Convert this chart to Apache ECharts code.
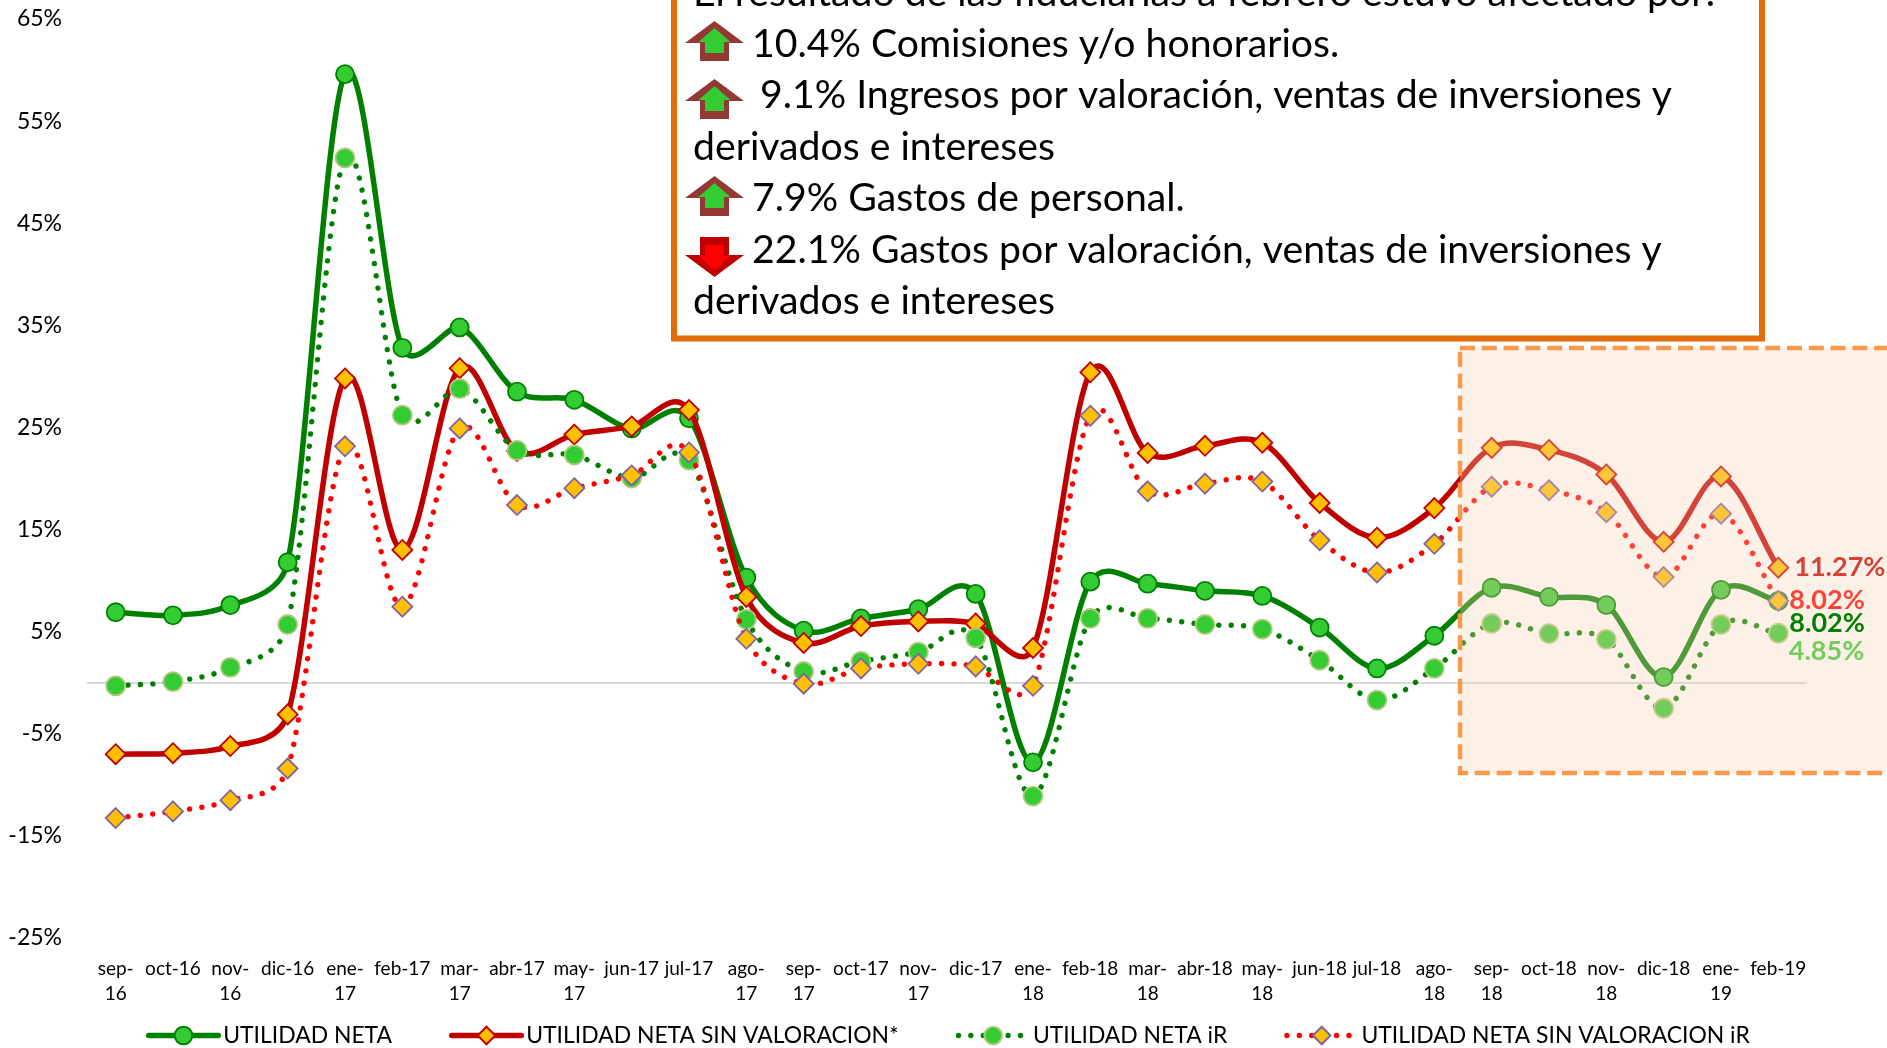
<!DOCTYPE html>
<html>
<head>
<meta charset="utf-8">
<style>html,body{margin:0;padding:0;background:#fff}#c{width:1887px;height:1048px}</style>
<script src="https://cdn.jsdelivr.net/npm/echarts@6/dist/echarts.min.js"></script>
</head>
<body>
<div id="c"></div>
<script>
const categories = ['sep-16','oct-16','nov-16','dic-16','ene-17','feb-17','mar-17','abr-17','may-17','jun-17','jul-17','ago-17','sep-17','oct-17','nov-17','dic-17','ene-18','feb-18','mar-18','abr-18','may-18','jun-18','jul-18','ago-18','sep-18','oct-18','nov-18','dic-18','ene-19','feb-19'];
const utilidadNeta = [6.9,6.6,7.6,11.8,59.6,32.8,34.8,28.5,27.7,24.9,25.9,10.3,5.1,6.3,7.2,8.7,-7.8,9.9,9.7,9.0,8.5,5.4,1.4,4.6,9.3,8.4,7.6,0.55,9.1,8.02];
const sinValoracion = [-7.0,-6.9,-6.2,-3.1,29.8,13.0,30.8,22.7,24.3,25.1,26.7,8.4,3.9,5.55,6.0,5.8,3.4,30.4,22.5,23.2,23.5,17.6,14.2,17.1,23.0,22.8,20.4,13.8,20.2,11.27];
const netaIR = [-0.3,0.1,1.5,5.7,51.4,26.2,28.8,22.75,22.3,20.05,21.8,6.2,1.1,2.1,3.0,4.4,-11.1,6.3,6.3,5.7,5.25,2.2,-1.7,1.4,5.8,4.8,4.25,-2.5,5.7,4.85];
const sinValoracionIR = [-13.25,-12.6,-11.5,-8.4,23.15,7.45,24.9,17.4,19.05,20.3,22.55,4.3,-0.1,1.4,1.85,1.6,-0.3,26.15,18.75,19.5,19.7,13.95,10.8,13.6,19.2,18.85,16.7,10.35,16.55,8.02];

const FONT = 'Lato';
const last = categories.length - 1;
const wrapped = /^(sep|nov|ene|mar|may|ago)-/;
const SOLID_W = 5.5, DOT_W = 5.4, DOT_GAP = 12.4;

function endLabel(values, color, ox, oy) {
  return values.map((v, i) => i === last ? {
    value: v,
    label: {show: true, position: 'right', distance: 0, offset: [ox, oy], color, fontFamily: FONT, fontSize: 27, fontWeight: 'bold',
             formatter: p => p.value.toFixed(2) + '%'}
  } : v);
}

// Spreadsheet-style smoothing: control points for the segment i -> i+1, from the four surrounding points
function segmentControls(p, i) {
  const n = p.length;
  const d = (a, b) => Math.hypot(a[0] - b[0], a[1] - b[1]) || 1e-6;
  const p0 = p[Math.max(i - 1, 0)], p1 = p[i], p2 = p[i + 1], p3 = p[Math.min(i + 2, n - 1)];
  const d02 = d(p0, p2), d12 = d(p1, p2), d13 = d(p1, p3);
  let f1, f2;
  const a = d02 / 6 < d12 / 2, b = d13 / 6 < d12 / 2;
  if (a && b) {
    f1 = i !== 0 ? 1 / 6 : 1 / 3;
    f2 = i !== n - 2 ? 1 / 6 : 1 / 3;
  } else if (!a && !b) {
    f1 = d12 / 2 / d02;
    f2 = d12 / 2 / d13;
  } else if (!a) {
    f1 = d12 / 2 / d02;
    f2 = d12 / 2 / d13 * (d13 / d02);
  } else {
    f1 = d12 / 2 / d02 * (d02 / d13);
    f2 = d12 / 2 / d13;
  }
  return [
    [p1[0] + (p2[0] - p0[0]) * f1, p1[1] + (p2[1] - p0[1]) * f1],
    [p2[0] + (p1[0] - p3[0]) * f2, p2[1] + (p1[1] - p3[1]) * f2]
  ];
}
function bezierLength(a, c1, c2, b) {
  let len = 0, prev = a;
  for (let k = 1; k <= 24; k++) {
    const t = k / 24, u = 1 - t;
    const q = [0, 1].map(j => u*u*u*a[j] + 3*u*u*t*c1[j] + 3*u*t*t*c2[j] + t*t*t*b[j]);
    len += Math.hypot(q[0] - prev[0], q[1] - prev[1]);
    prev = q;
  }
  return len;
}
function curve(name, values, color, dotted, z) {
  return {
    name, type: 'custom', coordinateSystem: 'cartesian2d', z, silent: true, clip: false,
    encode: {x: 0, y: 1}, data: values.map((v, i) => [i, v]),
    renderItem(params, api) {
      const i = params.dataIndex;
      if (i >= values.length - 1) return null;
      const pts = values.map((v, k) => api.coord([k, v]));
      const [c1, c2] = segmentControls(pts, i);
      let offset = 0;
      if (dotted) for (let k = 0; k < i; k++) {
        const [a, b] = segmentControls(pts, k);
        offset += bezierLength(pts[k], a, b, pts[k + 1]);
      }
      return {
        type: 'bezierCurve', z2: 0,
        shape: {x1: pts[i][0], y1: pts[i][1], x2: pts[i+1][0], y2: pts[i+1][1], cpx1: c1[0], cpy1: c1[1], cpx2: c2[0], cpy2: c2[1]},
        style: dotted
          ? {fill: 'none', stroke: color, lineWidth: DOT_W, lineCap: 'round', lineDash: [0.01, DOT_GAP], lineDashOffset: offset}
          : {fill: 'none', stroke: color, lineWidth: SOLID_W, lineCap: 'round'}
      };
    }
  };
}
function markers(name, data, z, symbol, size, fill, border) {
  return {name, type: 'line', z, data, symbol, symbolSize: size, showAllSymbol: true,
    lineStyle: {opacity: 0, width: 0},
    itemStyle: {color: fill, borderColor: border, borderWidth: 1.8}};
}

const NAMES = ['UTILIDAD NETA','UTILIDAD NETA SIN VALORACION*','UTILIDAD NETA iR','UTILIDAD NETA SIN VALORACION iR'];
const dotLegend = c => ({color: c, width: DOT_W, type: [0.01, DOT_GAP], cap: 'round', opacity: 1});
const solidLegend = c => ({color: c, width: SOLID_W, type: 'solid', cap: 'round', opacity: 1});

const textLines = [
  ['El resultado de las fiduciarias a febrero estuvo afectado por:', 693, -7],
  ['10.4% Comisiones y/o honorarios.', 752, 44],
  ['9.1% Ingresos por valoración, ventas de inversiones y', 760, 95],
  ['derivados e intereses', 693, 147],
  ['7.9% Gastos de personal.', 752, 198],
  ['22.1% Gastos por valoración, ventas de inversiones y', 752, 250],
  ['derivados e intereses', 693, 301]
];
function arrow(top, up) {
  const cx = 714.5, s = up ? 1 : -1, y0 = up ? top : top + 40;
  const P = pts => pts.map(p => [cx + p[0], y0 + s * p[1]]);
  const outer = P([[0,0],[29.5,22],[14.5,22],[14.5,40],[-14.5,40],[-14.5,22],[-29.5,22]]);
  const inner = P([[0,7],[16,21],[9.5,21],[9.5,32],[-9.5,32],[-9.5,21],[-16,21]]);
  return [
    {type:'polygon', z:121, shape:{points:outer}, style:{fill: up ? '#953735' : '#C00000'}},
    {type:'polygon', z:122, shape:{points:inner}, style:{fill: up ? '#33CC33' : '#FF0000'}}
  ];
}

const chart = echarts.init(document.getElementById('c'), null, {renderer:'canvas'});
chart.setOption({
  backgroundColor: '#fff',
  animation: false,
  textStyle: {fontFamily: FONT},
  grid: {left: 87, right: 80, top: 19, bottom: 110, containLabel: false},
  xAxis: {
    type: 'category', data: categories,
    axisLine: {show: false}, axisTick: {show: false},
    axisLabel: {interval: 0, margin: 18, fontSize: 19, lineHeight: 25, color: '#000', fontFamily: FONT,
      formatter: v => wrapped.test(v) ? v.replace('-', '-\n') : v}
  },
  yAxis: {
    type: 'value', min: -25, max: 65, interval: 5,
    splitLine: {show: false}, axisLine: {show: false}, axisTick: {show: false},
    axisLabel: {margin: 25, fontSize: 23, color: '#000', fontFamily: FONT, padding: [3, 0, 0, 0],
      formatter: v => Math.abs(v) % 10 === 5 ? v + '%' : ''}
  },
  legend: {
    left: 146, top: 1024, padding: 0, itemWidth: 69.5, itemHeight: 22, itemGap: 57,
    data: [
      {name: NAMES[0], lineStyle: solidLegend('#008000')},
      {name: NAMES[1], lineStyle: solidLegend('#C00000')},
      {name: NAMES[2], lineStyle: dotLegend('#008000')},
      {name: NAMES[3], lineStyle: dotLegend('#FF0000')}
    ],
    textStyle: {fontSize: 22.9, color: '#000', fontFamily: FONT}
  },
  series: [
    {...curve('c0', utilidadNeta, '#008000', false, 2),
     markLine: {silent:true, symbol:'none', z:1, label:{show:false},
       lineStyle:{color:'#D9D9D9', width:2, type:'solid'}, data:[{yAxis:0}]}},
    markers(NAMES[0], utilidadNeta, 3, 'circle', 18, '#33CC33', '#008000'),
    curve('c1', sinValoracion, '#C00000', false, 4),
    markers(NAMES[1], endLabel(sinValoracion,'#C00000',5,0), 5, 'diamond', 20, '#FFC000', '#C00000'),
    curve('c2', netaIR, '#008000', true, 6),
    markers(NAMES[2], endLabel(netaIR,'#33CC33',0,18), 7, 'circle', 19, '#33CC33', '#B5C77F'),
    curve('c3', sinValoracionIR, '#FF0000', true, 8),
    markers(NAMES[3], endLabel(sinValoracionIR,'#FF0000',0,-1), 9, 'diamond', 20, '#FFC000', '#8064A2'),
    {name:'etiqueta', type:'line', z:200, data: endLabel(utilidadNeta,'#007F00',10,22).map((d,i)=> i===last ? d : null),
     symbol:'circle', symbolSize:2, showAllSymbol:true, lineStyle:{width:0}, itemStyle:{color:'transparent'}, silent:true}
  ],
  graphic: {elements: [
    {type:'rect', z:100, shape:{x:1460, y:348, width:500, height:425},
     style:{fill:'rgba(249,208,177,0.32)', stroke:'#F79A4C', lineWidth:4.5, lineDash:[15,6.8]}},
    {type:'rect', z:110, shape:{x:674, y:-30, width:1088, height:368.5},
     style:{fill:'#fff', stroke:'#E36C0A', lineWidth:6}},
    ...arrow(21,true), ...arrow(79,true), ...arrow(176,true), ...arrow(237,false),
    ...textLines.map(l => ({type:'text', z:125, x:l[1], y:l[2],
      style:{text:l[0], font:'39.2px '+FONT, fill:'#000', verticalAlign:'middle', textVerticalAlign:'middle'}}))
  ]}
});
</script>
</body>
</html>
